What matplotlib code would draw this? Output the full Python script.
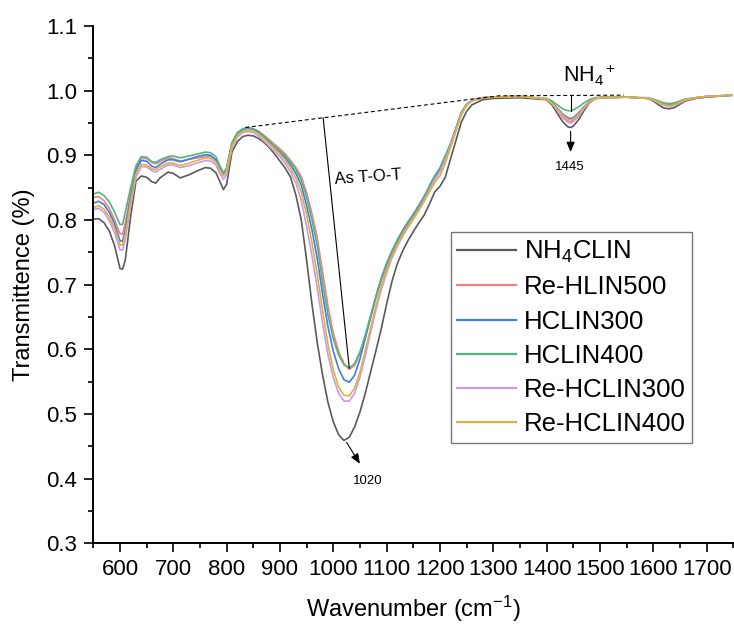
import matplotlib
matplotlib.use("Agg")
import matplotlib.pyplot as plt
from matplotlib.ticker import MultipleLocator, FormatStrFormatter

plt.rcParams["font.family"] = ["Liberation Sans", "DejaVu Sans"]
plt.rcParams["mathtext.fontset"] = "custom"
plt.rcParams["mathtext.rm"] = "Liberation Sans"
plt.rcParams["mathtext.it"] = "Liberation Sans:italic"
plt.rcParams["mathtext.default"] = "regular"

# Wavenumber grid (cm-1)
wavenumber = [550, 560, 570, 580, 590, 600, 605, 610, 620, 630, 640, 650, 660, 667, 675,
              690, 700, 713, 730, 745, 760, 770, 780, 787, 794, 800, 810, 820, 830, 840,
              850, 860, 870, 880, 890, 900, 910, 920, 930, 940, 950, 960, 970, 980, 990,
              1000, 1010, 1020, 1030, 1040, 1050, 1060, 1070, 1080, 1090, 1100, 1110, 1120,
              1130, 1140, 1150, 1160, 1170, 1180, 1190, 1200, 1210, 1220, 1230, 1240, 1250,
              1260, 1280, 1300, 1350, 1400, 1410, 1420, 1430, 1440, 1445, 1450, 1460, 1470,
              1480, 1490, 1500, 1550, 1590, 1600, 1610, 1620, 1630, 1640, 1650, 1660, 1680,
              1700, 1750]

nh4clin = [0.801, 0.802, 0.796, 0.783, 0.760, 0.725, 0.724, 0.738, 0.805, 0.860, 0.868, 0.866,
           0.859, 0.857, 0.865, 0.874, 0.872, 0.865, 0.870, 0.876, 0.881, 0.880, 0.873, 0.860,
           0.847, 0.855, 0.905, 0.921, 0.929, 0.931, 0.930, 0.926, 0.920, 0.912, 0.902, 0.891,
           0.880, 0.866, 0.838, 0.800, 0.738, 0.670, 0.610, 0.560, 0.518, 0.488, 0.468, 0.459,
           0.464, 0.480, 0.503, 0.532, 0.565, 0.598, 0.632, 0.670, 0.705, 0.732, 0.752, 0.768,
           0.782, 0.795, 0.807, 0.824, 0.843, 0.852, 0.866, 0.895, 0.923, 0.951, 0.968, 0.978,
           0.986, 0.988, 0.989, 0.986, 0.978, 0.965, 0.952, 0.944, 0.943, 0.945, 0.955, 0.969,
           0.981, 0.987, 0.989, 0.990, 0.988, 0.984, 0.978, 0.973, 0.972, 0.974, 0.979, 0.984,
           0.988, 0.990, 0.993]

re_hlin500 = [0.835, 0.836, 0.830, 0.818, 0.800, 0.779, 0.778, 0.795, 0.840, 0.880, 0.895, 0.895,
              0.889, 0.887, 0.890, 0.896, 0.895, 0.891, 0.894, 0.896, 0.898, 0.898, 0.893, 0.881,
              0.871, 0.878, 0.918, 0.934, 0.940, 0.942, 0.941, 0.937, 0.931, 0.924, 0.917, 0.910,
              0.902, 0.892, 0.881, 0.867, 0.842, 0.810, 0.772, 0.720, 0.667, 0.625, 0.597, 0.578,
              0.569, 0.575, 0.593, 0.619, 0.649, 0.679, 0.706, 0.728, 0.748, 0.765, 0.780, 0.793,
              0.805, 0.818, 0.832, 0.848, 0.864, 0.876, 0.895, 0.916, 0.940, 0.965, 0.978, 0.985,
              0.989, 0.990, 0.991, 0.987, 0.980, 0.970, 0.960, 0.953, 0.952, 0.954, 0.962, 0.973,
              0.982, 0.988, 0.989, 0.990, 0.988, 0.986, 0.982, 0.978, 0.977, 0.978, 0.982, 0.986,
              0.989, 0.991, 0.993]

hclin300 = [0.826, 0.829, 0.824, 0.812, 0.794, 0.768, 0.767, 0.785, 0.835, 0.877, 0.892, 0.891,
            0.883, 0.881, 0.886, 0.893, 0.893, 0.890, 0.894, 0.898, 0.901, 0.900, 0.893, 0.881,
            0.872, 0.879, 0.918, 0.934, 0.940, 0.942, 0.940, 0.935, 0.928, 0.920, 0.912, 0.905,
            0.896, 0.885, 0.872, 0.854, 0.822, 0.785, 0.740, 0.685, 0.635, 0.597, 0.570, 0.553,
            0.549, 0.560, 0.585, 0.617, 0.650, 0.682, 0.710, 0.733, 0.752, 0.769, 0.784, 0.797,
            0.809, 0.822, 0.836, 0.852, 0.868, 0.880, 0.899, 0.918, 0.942, 0.966, 0.979, 0.985,
            0.989, 0.990, 0.991, 0.987, 0.982, 0.973, 0.964, 0.958, 0.957, 0.958, 0.966, 0.975,
            0.983, 0.988, 0.989, 0.990, 0.988, 0.986, 0.982, 0.979, 0.978, 0.979, 0.982, 0.986,
            0.989, 0.991, 0.993]

hclin400 = [0.840, 0.843, 0.838, 0.828, 0.812, 0.793, 0.793, 0.812, 0.850, 0.884, 0.898, 0.897,
            0.890, 0.889, 0.893, 0.898, 0.899, 0.896, 0.899, 0.902, 0.905, 0.904, 0.898, 0.884,
            0.873, 0.880, 0.920, 0.935, 0.941, 0.943, 0.941, 0.937, 0.930, 0.922, 0.914, 0.907,
            0.899, 0.889, 0.878, 0.862, 0.835, 0.800, 0.760, 0.703, 0.653, 0.616, 0.591, 0.576,
            0.571, 0.578, 0.596, 0.622, 0.652, 0.682, 0.709, 0.731, 0.751, 0.768, 0.783, 0.796,
            0.808, 0.821, 0.835, 0.851, 0.867, 0.880, 0.899, 0.918, 0.942, 0.966, 0.979, 0.985,
            0.989, 0.990, 0.991, 0.988, 0.984, 0.978, 0.972, 0.969, 0.969, 0.970, 0.975, 0.981,
            0.986, 0.989, 0.990, 0.990, 0.989, 0.987, 0.984, 0.981, 0.980, 0.981, 0.984, 0.987,
            0.989, 0.991, 0.993]

re_hclin300 = [0.816, 0.818, 0.812, 0.799, 0.780, 0.754, 0.753, 0.770, 0.822, 0.866, 0.883, 0.882,
               0.876, 0.874, 0.878, 0.885, 0.885, 0.881, 0.884, 0.888, 0.892, 0.891, 0.885, 0.872,
               0.863, 0.870, 0.911, 0.928, 0.935, 0.937, 0.935, 0.930, 0.922, 0.914, 0.906, 0.898,
               0.887, 0.874, 0.857, 0.830, 0.790, 0.745, 0.695, 0.640, 0.592, 0.556, 0.532, 0.520,
               0.520, 0.532, 0.557, 0.590, 0.626, 0.661, 0.692, 0.718, 0.741, 0.759, 0.775, 0.789,
               0.802, 0.815, 0.830, 0.846, 0.862, 0.874, 0.893, 0.915, 0.940, 0.964, 0.978, 0.985,
               0.989, 0.990, 0.991, 0.987, 0.980, 0.969, 0.958, 0.951, 0.950, 0.952, 0.960, 0.972,
               0.982, 0.987, 0.989, 0.990, 0.988, 0.985, 0.981, 0.977, 0.976, 0.977, 0.981, 0.985,
               0.989, 0.991, 0.993]

re_hclin400 = [0.819, 0.822, 0.817, 0.805, 0.787, 0.762, 0.761, 0.778, 0.828, 0.871, 0.886, 0.885,
               0.879, 0.878, 0.882, 0.888, 0.888, 0.884, 0.888, 0.892, 0.896, 0.895, 0.889, 0.877,
               0.868, 0.875, 0.914, 0.930, 0.937, 0.939, 0.938, 0.933, 0.926, 0.918, 0.910, 0.902,
               0.892, 0.880, 0.865, 0.843, 0.808, 0.765, 0.715, 0.660, 0.608, 0.568, 0.542, 0.529,
               0.528, 0.540, 0.565, 0.598, 0.633, 0.667, 0.697, 0.722, 0.744, 0.761, 0.776, 0.789,
               0.801, 0.814, 0.828, 0.843, 0.858, 0.868, 0.888, 0.912, 0.937, 0.962, 0.977, 0.984,
               0.989, 0.990, 0.991, 0.987, 0.981, 0.972, 0.962, 0.956, 0.955, 0.956, 0.964, 0.974,
               0.983, 0.988, 0.989, 0.990, 0.988, 0.986, 0.982, 0.978, 0.977, 0.978, 0.982, 0.986,
               0.989, 0.991, 0.993]

series_labels = ["NH$_4$CLIN", "Re-HLIN500", "HCLIN300", "HCLIN400", "Re-HCLIN300", "Re-HCLIN400"]
series_values = [nh4clin, re_hlin500, hclin300, hclin400, re_hclin300, re_hclin400]
series_colors = ["#5a5a5a", "#f08080", "#3d7fe0", "#55b383", "#c89be8", "#e0b040"]

# Baseline used for the band construction (dashed) and band marks
baseline_w = [835, 1310, 1545]
baseline_t = [0.943, 0.992, 0.993]
tot_line_w = [981, 1030]
tot_line_t = [0.958, 0.571]
nh4_line_w = [1445, 1445]
nh4_line_t = [0.993, 0.969]

fig = plt.figure(figsize=(7.34, 6.26), dpi=100)
ax = fig.add_axes([0.1271, 0.1321, 0.8719, 0.8264])

for vals, lab, col in zip(series_values, series_labels, series_colors):
    ax.plot(wavenumber, vals, color=col, lw=1.2, label=lab)

ax.plot(baseline_w, baseline_t, color="black", lw=0.8, ls=(0, (3.5, 2.5)))
ax.plot(tot_line_w, tot_line_t, color="black", lw=0.8)
ax.plot(nh4_line_w, nh4_line_t, color="black", lw=0.8)

ax.text(1003, 0.862, "As T-O-T", fontsize=12, rotation=4, rotation_mode="anchor",
        ha="left", va="center")
ax.annotate("", xy=(1050, 0.423), xytext=(1025, 0.456),
            arrowprops=dict(arrowstyle="-|>,head_length=0.6,head_width=0.25",
                            color="black", lw=0.8, shrinkA=0, shrinkB=0))
ax.text(1065, 0.396, "1020", fontsize=9.5, ha="center", va="center")
ax.annotate("", xy=(1445, 0.905), xytext=(1445, 0.937),
            arrowprops=dict(arrowstyle="-|>,head_length=0.6,head_width=0.25",
                            color="black", lw=0.8, shrinkA=0, shrinkB=0))
ax.text(1444, 0.882, "1445", fontsize=9.5, ha="center", va="center")
ax.text(1430, 1.012, "NH$_4$$^+$", fontsize=15.5, ha="left", va="baseline")

ax.set_xlim(550, 1750)
ax.set_ylim(0.3, 1.1)
ax.set_xticks(range(600, 1701, 100))
ax.xaxis.set_minor_locator(MultipleLocator(50))
ax.yaxis.set_major_locator(MultipleLocator(0.1))
ax.yaxis.set_minor_locator(MultipleLocator(0.05))
ax.yaxis.set_major_formatter(FormatStrFormatter("%.1f"))

for side in ("top", "right"):
    ax.spines[side].set_visible(False)
for side in ("left", "bottom"):
    ax.spines[side].set_linewidth(1.4)
ax.tick_params(which="major", direction="out", length=6.5, width=1.2, labelsize=16, pad=5)
ax.tick_params(which="minor", direction="out", length=3.5, width=1.2)

ax.set_xlabel("Wavenumber (cm$^{-1}$)", fontsize=17, labelpad=10)
ax.set_ylabel("Transmittence (%)", fontsize=17, labelpad=8)

leg = ax.legend(loc="upper left", bbox_to_anchor=(0.5584, 0.601), borderaxespad=0,
                fontsize=18.5, frameon=True, fancybox=False, handlelength=2.3,
                handletextpad=0.3, borderpad=0.25, labelspacing=0.4)
leg.get_frame().set_edgecolor("#555555")
leg.get_frame().set_linewidth(1.0)
for line in leg.get_lines():
    line.set_linewidth(1.6)

fig.savefig("out.png", dpi=100)
